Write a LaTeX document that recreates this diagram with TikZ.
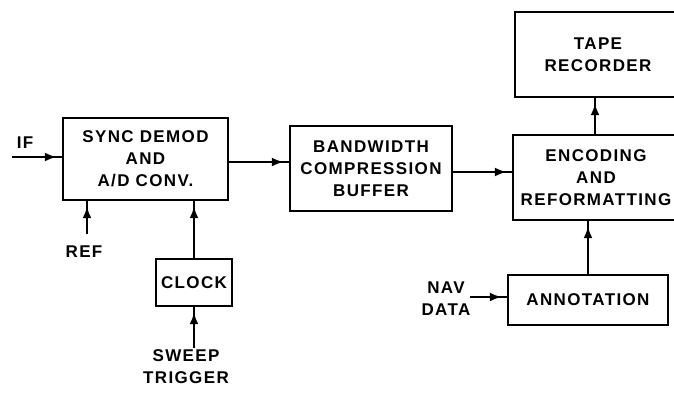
\documentclass[tikz,border=0pt]{standalone}
\usepackage{fontspec}
\setmainfont{Liberation Sans}[LetterSpace=8]
\usetikzlibrary{arrows.meta,decorations.markings}
\tikzset{
  box/.style={draw, line width=2.4pt, rectangle, align=center, inner sep=0pt,
    font=\fontsize{17}{22}\selectfont\bfseries},
  lbl/.style={align=center, inner sep=0pt, font=\fontsize{17}{22}\selectfont\bfseries},
  arr/.style={line width=2.4pt, postaction={decorate},
    decoration={markings, mark=at position -5pt with {\arrow{Latex[length=12pt,width=9pt]}}}}
}
\begin{document}
\begin{tikzpicture}[x=1pt,y=-1pt]
\useasboundingbox (0,0) rectangle (674,397);
% boxes
\node[box, minimum width=165pt, minimum height=82pt] (sync) at (145.5,159) {SYNC DEMOD\\AND\\A/D CONV.};
\node[box, minimum width=162pt, minimum height=85pt] (bw) at (371,168.5) {BANDWIDTH\\COMPRESSION\\BUFFER};
\node[box, minimum width=166pt, minimum height=85pt] (enc) at (596,177.5) {ENCODING\\AND\\REFORMATTING};
\node[box, minimum width=166pt, minimum height=85pt] (tape) at (598,54.5) {TAPE\\RECORDER};
\node[box, minimum width=160pt, minimum height=50pt] (ann) at (588,300) {ANNOTATION};
\node[box, minimum width=76pt, minimum height=47pt] (clock) at (194,282.5) {CLOCK};
% labels
\node[lbl] (iflbl) at (25,143) {IF};
\node[lbl] (reflbl) at (84,252) {REF};
\node[lbl] (sweeplbl) at (186,367) {SWEEP\\TRIGGER};
\node[lbl] (navlbl) at (446,299) {NAV\\DATA};
% free ends
\coordinate (ifin) at (12,157);
\coordinate (refin) at (87,234);
\coordinate (sweepin) at (194,348);
\coordinate (navin) at (470,297);
% connectors
\draw[arr] (ifin) -- (sync.west |- ifin);
\draw[arr] (refin) -- (sync.south -| refin);
\draw[arr] (clock.north) -- (sync.south -| clock.north);
\draw[arr] (sweepin) -- (clock.south);
\draw[arr] (sync.east |- 0,162) -- (bw.west |- 0,162);
\draw[arr] (bw.east |- 0,172) -- (enc.west |- 0,172);
\draw[arr] (enc.north -| 595,0) -- (tape.south -| 595,0);
\draw[arr] (ann.north) -- (enc.south -| ann.north);
\draw[arr] (navin) -- (ann.west |- navin);
\end{tikzpicture}
\end{document}
